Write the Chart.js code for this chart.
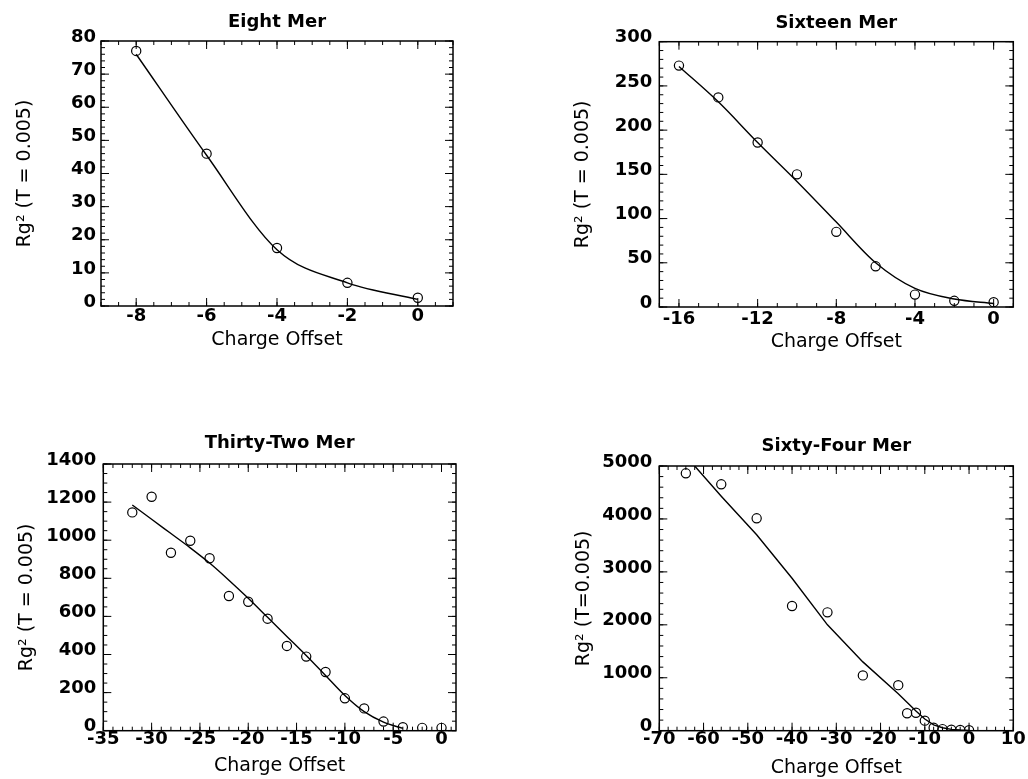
<!DOCTYPE html>
<html>
<head>
<meta charset="utf-8">
<title>Rg2 vs Charge Offset</title>
<script src="https://cdn.jsdelivr.net/npm/chart.js@4.4.1/dist/chart.umd.min.js"></script>
<style>
  body { margin: 0; background: #fff; }
  .panel { position: absolute; }
</style>
</head>
<body>
<div class="panel" style="left:0;top:0"><canvas id="eight" width="514" height="389"></canvas></div>
<div class="panel" style="left:514px;top:0"><canvas id="sixteen" width="514" height="389"></canvas></div>
<div class="panel" style="left:0;top:389px"><canvas id="thirtyTwo" width="514" height="390"></canvas></div>
<div class="panel" style="left:514px;top:389px"><canvas id="sixtyFour" width="514" height="390"></canvas></div>
<script>
// Eight Mer
const eightX = [-8, -6, -4, -2, 0];
const eightRg = [77, 46, 17.5, 7, 2.5];
const eightFitX = [-8, -6, -4, -2, 0];
const eightFit = [76, 45.5, 17, 7, 2];
const eightXTicks = [-8, -6, -4, -2, 0];
const eightYTicks = [0, 10, 20, 30, 40, 50, 60, 70, 80];

// Sixteen Mer
const sixteenX = [-16, -14, -12, -10, -8, -6, -4, -2, 0];
const sixteenRg = [273, 237, 186, 150, 85, 46, 14, 7, 5.5];
const sixteenFitX = [-16, -14, -12, -10, -8, -6, -4, -2, 0];
const sixteenFit = [272, 232, 186, 142, 96, 50, 21, 9, 4];
const sixteenXTicks = [-16, -12, -8, -4, 0];
const sixteenYTicks = [0, 50, 100, 150, 200, 250, 300];

// Thirty-Two Mer
const thirtyTwoX = [-32, -30, -28, -26, -24, -22, -20, -18, -16, -14, -12, -10, -8, -6, -4, -2, 0];
const thirtyTwoRg = [1146, 1228, 934, 997, 905, 707, 677, 588, 445, 389, 308, 170, 117, 48, 18, 15, 15];
const thirtyTwoFitX = [-32, -30, -28, -26, -24, -22, -20, -18, -16, -14, -12, -10, -8, -6, -4];
const thirtyTwoFit = [1185, 1110, 1035, 960, 880, 790, 695, 595, 495, 395, 290, 185, 100, 45, 12];
const thirtyTwoXTicks = [-35, -30, -25, -20, -15, -10, -5, 0];
const thirtyTwoYTicks = [0, 200, 400, 600, 800, 1000, 1200, 1400];

// Sixty-Four Mer
const sixtyFourX = [-64, -56, -48, -40, -32, -24, -16, -14, -12, -10, -8, -6, -4, -2, 0];
const sixtyFourRg = [4862, 4654, 4012, 2355, 2236, 1045, 860, 330, 340, 190, 55, 30, 20, 15, 10];
const sixtyFourFitX = [-62, -56, -48, -40, -32, -24, -16, -12, -10, -8, -6, -4, -2, 0];
const sixtyFourFit = [5000, 4430, 3700, 2880, 2000, 1300, 700, 370, 220, 110, 55, 25, 12, 5];
const sixtyFourXTicks = [-70, -60, -50, -40, -30, -20, -10, 0, 10];
const sixtyFourYTicks = [0, 1000, 2000, 3000, 4000, 5000];

const FONT = "'DejaVu Sans', sans-serif";

// frame plus inward tick marks on all four sides (major + minor)
const frameTicks = {
  id: "frameTicks",
  afterDraw(chart, args, opts) {
    const { ctx, chartArea: a, scales } = chart;
    const steps = (scale, step) => {
      const out = [];
      for (let v = Math.ceil(scale.min / step) * step; v <= scale.max + 1e-9; v += step) out.push(v);
      return out;
    };
    const mark = (scale, values, len) => {
      values.forEach((v) => {
        const p = scale.getPixelForValue(v);
        if (scale.axis === "x") {
          ctx.moveTo(p, a.bottom);
          ctx.lineTo(p, a.bottom - len);
          ctx.moveTo(p, a.top);
          ctx.lineTo(p, a.top + len);
        } else {
          ctx.moveTo(a.left, p);
          ctx.lineTo(a.left + len, p);
          ctx.moveTo(a.right, p);
          ctx.lineTo(a.right - len, p);
        }
      });
    };
    ctx.save();
    ctx.strokeStyle = "#000";
    ctx.lineWidth = 1;
    ctx.beginPath();
    mark(scales.x, steps(scales.x, opts.xMinor), 4);
    mark(scales.y, steps(scales.y, opts.yMinor), 4);
    mark(scales.x, opts.xMajor, 8);
    mark(scales.y, opts.yMajor, 8);
    ctx.stroke();
    ctx.lineWidth = 1.5;
    ctx.strokeRect(a.left, a.top, a.right - a.left, a.bottom - a.top);
    ctx.restore();
  },
};

function makePanel(id, p) {
  const canvas = document.getElementById(id);
  const points = p.xs.map((x, i) => ({ x: x, y: p.ys[i] }));
  const fit = p.fitX.map((x, i) => ({ x: x, y: p.fitY[i] }));

  new Chart(canvas, {
    type: "scatter",
    data: {
      datasets: [
        {
          data: points,
          showLine: false,
          pointStyle: "circle",
          pointRadius: 4.6,
          pointBorderWidth: 1.2,
          pointBorderColor: "#000",
          pointBackgroundColor: "rgba(0,0,0,0)",
        },
        {
          data: fit,
          showLine: true,
          borderColor: "#000",
          borderWidth: 1.4,
          pointRadius: 0,
          tension: p.smooth ? 0.4 : 0,
          cubicInterpolationMode: p.smooth ? "monotone" : "default",
        },
      ],
    },
    options: {
      responsive: false,
      animation: false,
      layout: { padding: p.pad },
      plugins: {
        legend: { display: false },
        tooltip: { enabled: false },
        title: {
          display: true,
          text: p.title,
          fullSize: false,
          color: "#000",
          font: { family: FONT, size: 18, weight: "bold" },
          padding: { top: p.titleTop, bottom: p.titleBottom },
        },
        frameTicks: { xMinor: p.xMinor, yMinor: p.yMinor, xMajor: p.xTicks, yMajor: p.yTicks },
      },
      scales: {
        x: {
          type: "linear",
          min: p.xMin,
          max: p.xMax,
          afterBuildTicks: (s) => { s.ticks = p.xTicks.map((v) => ({ value: v })); },
          afterFit: (s) => { s.height = p.xH; },
          grid: { display: false, drawTicks: false },
          border: { display: false },
          ticks: {
            color: "#000",
            font: { family: FONT, size: 18, weight: "bold" },
            padding: p.xPad,
            maxRotation: 0,
            autoSkip: false,
            callback: (v) => String(v),
          },
          title: {
            display: true,
            text: "Charge Offset",
            color: "#000",
            font: { family: FONT, size: 19 },
            padding: 0,
          },
        },
        y: {
          type: "linear",
          min: p.yTicks[0],
          max: p.yTicks[p.yTicks.length - 1],
          afterBuildTicks: (s) => { s.ticks = p.yTicks.map((v) => ({ value: v })); },
          afterFit: (s) => { s.width = p.yW; },
          grid: { display: false, drawTicks: false },
          border: { display: false },
          ticks: {
            color: "#000",
            font: { family: FONT, size: 18, weight: "bold" },
            padding: p.yPad,
            labelOffset: -4,
            autoSkip: false,
            callback: (v) => String(v),
          },
          title: {
            display: true,
            text: p.yTitle,
            color: "#000",
            font: { family: FONT, size: 19 },
            padding: 0,
          },
        },
      },
    },
    plugins: [frameTicks],
  });
}

makePanel("eight", {
  title: "Eight Mer", yTitle: "Rg\u00B2 (T = 0.005)", smooth: true,
  xs: eightX, ys: eightRg, fitX: eightFitX, fitY: eightFit,
  xTicks: eightXTicks, yTicks: eightYTicks, xMin: -9, xMax: 1, xMinor: 0.5, yMinor: 2,
  pad: { left: 14, right: 61, top: 0, bottom: 38 },
  titleTop: 12, titleBottom: 7.4, yW: 87, xH: 45, xPad: 0, yPad: 5,
});

makePanel("sixteen", {
  title: "Sixteen Mer", yTitle: "Rg\u00B2 (T = 0.005)", smooth: true,
  xs: sixteenX, ys: sixteenRg, fitX: sixteenFitX, fitY: sixteenFit,
  xTicks: sixteenXTicks, yTicks: sixteenYTicks, xMin: -17, xMax: 1, xMinor: 1, yMinor: 10,
  pad: { left: 58, right: 14.7, top: 0, bottom: 35.6 },
  titleTop: 12.5, titleBottom: 7.6, yW: 87.3, xH: 46.4, xPad: 1.6, yPad: 7,
});

makePanel("thirtyTwo", {
  title: "Thirty-Two Mer", yTitle: "Rg\u00B2 (T = 0.005)", smooth: true,
  xs: thirtyTwoX, ys: thirtyTwoRg, fitX: thirtyTwoFitX, fitY: thirtyTwoFit,
  xTicks: thirtyTwoXTicks, yTicks: thirtyTwoYTicks, xMin: -35, xMax: 1.5, xMinor: 1, yMinor: 50,
  pad: { left: 15.3, right: 58, top: 0, bottom: 1.6 },
  titleTop: 43.5, titleBottom: 9.9, yW: 88, xH: 46.7, xPad: -2, yPad: 7,
});

makePanel("sixtyFour", {
  title: "Sixty-Four Mer", yTitle: "Rg\u00B2 (T=0.005)", smooth: false,
  xs: sixtyFourX, ys: sixtyFourRg, fitX: sixtyFourFitX, fitY: sixtyFourFit,
  xTicks: sixtyFourXTicks, yTicks: sixtyFourYTicks, xMin: -70, xMax: 10, xMinor: 2, yMinor: 200,
  pad: { left: 59, right: 14.7, top: 0, bottom: 0 },
  titleTop: 46.2, titleBottom: 9.2, yW: 86.3, xH: 48.3, xPad: -2, yPad: 7,
});
</script>
</body>
</html>
